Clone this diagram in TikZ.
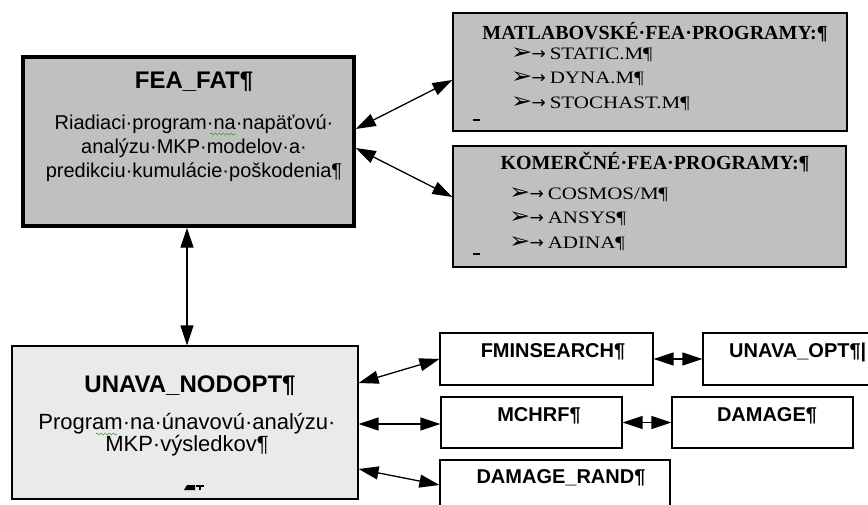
\documentclass[tikz,border=0pt]{standalone}
\usepackage{fontspec}
\setmainfont{Liberation Serif}
\setsansfont{Liberation Sans}
\newfontfamily\symbfont{DejaVu Sans}
\newfontfamily\listfont[FakeStretch=1.2]{Liberation Serif}
\usetikzlibrary{arrows.meta,decorations.pathmorphing}
\definecolor{boxgray}{HTML}{C0C0C0}
\definecolor{palegray}{HTML}{EAEAEA}
\definecolor{spellgreen}{HTML}{33AA33}
% bullet in the list boxes
\newcommand{\bul}{{\symbfont\fontsize{17}{17}\selectfont\smash{\scalebox{1.5}[1.3]{➢}}\hspace{-1pt}→}\hspace{4pt}}
\begin{document}
\begin{tikzpicture}[x=1pt,y=-1pt,
	fat box/.style = {draw,line width=3.5pt,fill=boxgray,inner sep=0pt},
	list box/.style = {draw,line width=1.2pt,fill=boxgray,inner sep=0pt},
	main box/.style = {draw,line width=1.2pt,fill=palegray,inner sep=0pt},
	prog box/.style = {draw,line width=1.2pt,fill=white,inner sep=0pt},
	big title/.style = {font=\sffamily\bfseries\fontsize{24}{27}\selectfont,inner sep=0pt},
	body/.style = {font=\sffamily\fontsize{20}{24}\selectfont,align=center,inner sep=0pt},
	list title/.style = {font=\rmfamily\bfseries\fontsize{20}{22}\selectfont,inner sep=0pt},
	list/.style = {font=\listfont\fontsize{17.5}{24.5}\selectfont,align=left,anchor=west,inner sep=0pt},
	prog/.style = {font=\sffamily\bfseries\fontsize{20}{22}\selectfont,inner sep=0pt},
	link/.style = {{Triangle[length=20pt,width=13pt]}-{Triangle[length=20pt,width=13pt]},line width=1.3pt},
	spell/.style = {spellgreen,line width=0.6pt,decorate,decoration={snake,amplitude=1pt,segment length=4pt}}]
	\useasboundingbox (0,0) rectangle (868,505);
	\clip (0,0) rectangle (868,505);

	% boxes
	\node[fat box,minimum width=331pt,minimum height=169pt] (feafat) at (188.5,141.5) {};
	\node[list box,minimum width=394pt,minimum height=118pt] (matlab) at (650,72) {};
	\node[list box,minimum width=393pt,minimum height=121pt] (komer) at (649.5,206.5) {};
	\node[main box,minimum width=346pt,minimum height=153pt] (nodopt) at (185,422.5) {};
	\node[prog box,minimum width=213pt,minimum height=52pt] (fmin) at (546.5,359) {};
	\node[prog box,minimum width=200pt,minimum height=52pt] (unavaopt) at (803,359) {};
	\node[prog box,minimum width=181pt,minimum height=51pt] (mchrf) at (531.5,422.5) {};
	\node[prog box,minimum width=181pt,minimum height=51pt] (damage) at (762.5,422.5) {};
	\node[prog box,minimum width=230pt,minimum height=80pt] (damrand) at (555,500) {};

	% texts
	\node[big title] (feafatname) at (194,82) {FEA\_FAT¶};
	\node[body] (feafattext) at (194,148) {Riadiaci·program·na·napäťovú·\\analýzu·MKP·modelov·a·\\predikciu·kumulácie·poškodenia¶};
	\node[list title] (matlabname) at (655,32) {MATLABOVSKÉ·FEA·PROGRAMY:¶};
	\node[list] (matlabitems) at (511,79) {\bul STATIC.M¶\\\bul DYNA.M¶\\\bul STOCHAST.M¶};
	\node[list title] (komername) at (655,162) {KOMERČNÉ·FEA·PROGRAMY:¶};
	\node[list] (komeritems) at (509,219) {\bul COSMOS/M¶\\\bul ANSYS¶\\\bul ADINA¶};
	\node[big title] (nodoptname) at (190,386) {UNAVA\_NODOPT¶};
	\node[body,font=\sffamily\fontsize{22}{22}\selectfont] (nodopttext) at (187,435) {Program·na·únavovú·analýzu·\\MKP·výsledkov¶};
	\node[prog] (fminname) at (553,352) {FMINSEARCH¶};
	\node[prog,anchor=west] (unavaoptname) at (729,352) {UNAVA\_OPT¶|};
	\node[prog] (mchrfname) at (539,416) {MCHRF¶};
	\node[prog] (damagename) at (767,416) {DAMAGE¶};
	\node[prog] (damrandname) at (561,478) {DAMAGE\_RAND¶};

	% anchor marks
	\fill (473,119) rectangle (480,121);
	\fill (473,253) rectangle (480,255);
	\fill (187,485) -- (195,485) -- (195,490) -- (184,490) -- cycle;
	\fill (196,485) rectangle (204,486.5);
	\fill (199.3,485) rectangle (200.8,490);

	% spelling marks
	\draw[spell] (210,134) -- (236,134);
	\draw[spell] (96,434) -- (117,434);

	% connections
	\path[link]
	([yshift=12.5pt]feafat.east) edge ([yshift=-8pt]matlab.west)
	([yshift=-6.5pt]feafat.east) edge ([yshift=9.5pt]komer.west)
	(feafat.south -| 187,0) edge (nodopt.north -| 187,0)
	([yshift=39.5pt]nodopt.east) edge (fmin.west)
	([yshift=-1.5pt]nodopt.east) edge ([yshift=-1.5pt]mchrf.west)
	([yshift=-46.5pt]nodopt.east) edge ([yshift=15pt]damrand.west)
	(fmin.east) edge (unavaopt.west)
	(mchrf.east) edge (damage.west);
\end{tikzpicture}
\end{document}
